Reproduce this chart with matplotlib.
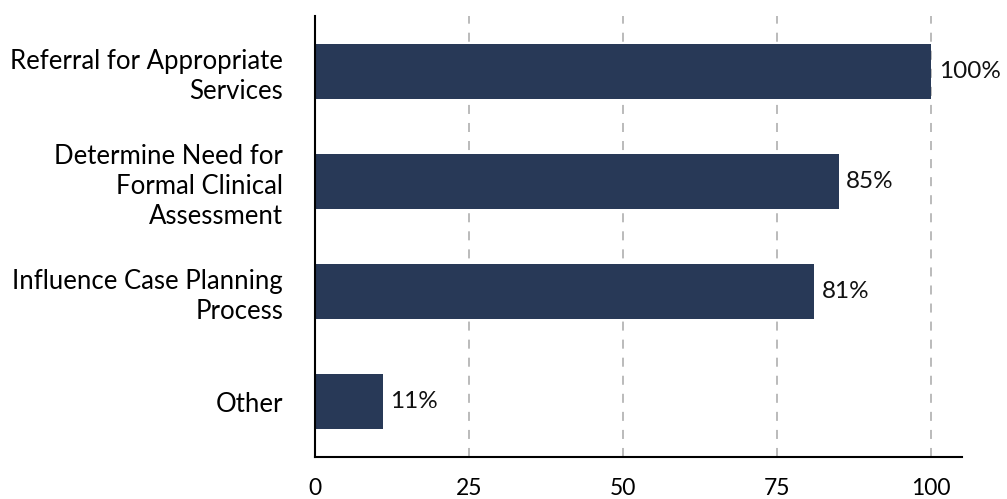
import matplotlib.pyplot as plt

categories = ['Referral for Appropriate\nServices',
              'Determine Need for\nFormal Clinical\nAssessment',
              'Influence Case Planning\nProcess',
              'Other']
values = [100, 85, 81, 11]
xticks = [0, 25, 50, 75, 100]

plt.rcParams['font.family'] = ['Lato', 'DejaVu Sans']

fig = plt.figure(figsize=(10.07, 4.99), dpi=100)
ax = fig.add_axes([0.3128, 0.0842, 0.6425, 0.8838])

pos = range(len(categories))
ax.barh(pos, values, height=0.5, color='#283957', zorder=3)
for p, v in zip(pos, values):
    ax.text(v + 1.2, p, f'{v}%', va='center', ha='left', fontsize=17.5, color='#111111')

ax.set_yticks(list(pos))
ax.set_yticklabels(categories, fontsize=18.5, linespacing=1.25)
ax.set_ylim(3.5, -0.5)
ax.set_xlim(0, 105)
ax.set_xticks(xticks)
ax.set_xticklabels([str(t) for t in xticks], fontsize=16.5)
ax.tick_params(length=0)
ax.tick_params(axis='x', pad=15)
ax.tick_params(axis='y', pad=23)

for t in xticks[1:]:
    ax.axvline(t, color='#b5b5b5', linestyle=(0, (5, 5)), linewidth=1.3, zorder=1)

for s in ['top', 'right']:
    ax.spines[s].set_visible(False)
ax.spines['left'].set_linewidth(1.5)
ax.spines['bottom'].set_linewidth(1.5)
ax.spines['left'].set_zorder(4)

fig.savefig('out.png', dpi=100)
